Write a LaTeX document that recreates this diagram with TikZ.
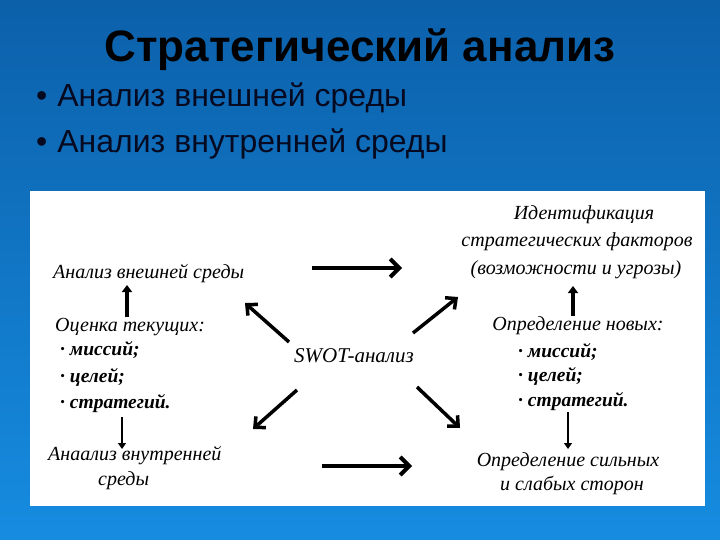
\documentclass[tikz,border=0pt]{standalone}
\usepackage{fontspec}
\setmainfont{Liberation Serif}
\newfontfamily\hdfont{Liberation Sans}
\usetikzlibrary{arrows.meta}
\definecolor{bgtop}{RGB}{12,96,170}
\definecolor{bgbot}{RGB}{22,140,224}
\definecolor{bullink}{RGB}{6,10,32}
\tikzset{
  lbl/.style={font=\fontsize{20}{24}\selectfont\itshape, inner sep=0pt, anchor=base west},
  lblc/.style={font=\fontsize{20}{24}\selectfont\itshape, inner sep=0pt, anchor=base},
  itm/.style={font=\fontsize{19.5}{24}\selectfont\itshape\bfseries, inner sep=0pt, anchor=base west},
  bigarr/.style={line width=4pt, -{Straight Barb[length=9pt,width=18pt]}},
  diagarr/.style={line width=3.5pt, -{Straight Barb[length=8pt,width=15pt]}},
  uparr/.style={line width=3.5pt, -{Triangle[length=7pt,width=10pt]}},
  dnarr/.style={line width=1.3pt, -{Triangle[length=6pt,width=8pt]}},
}
\begin{document}
\begin{tikzpicture}[x=1pt,y=-1pt]
\useasboundingbox (0,0) rectangle (720,540);
\shade[top color=bgtop, bottom color=bgbot] (0,0) rectangle (720,540);
% title and bullets
\node[font=\hdfont\bfseries\fontsize{44}{50}\selectfont, anchor=base, inner sep=0pt] (title) at (360,62) {Стратегический анализ};
\node[font=\hdfont\fontsize{32}{38}\selectfont, text=bullink, anchor=base west, inner sep=0pt] (b1) at (36,107) {•\hspace{10pt}Анализ внешней среды};
\node[font=\hdfont\fontsize{32}{38}\selectfont, text=bullink, anchor=base west, inner sep=0pt] (b2) at (36,153) {•\hspace{10pt}Анализ внутренней среды};
% panel
\fill[white] (30,191) rectangle (705,506);
% left column
\node[lbl] (ext) at (53,278) {Анализ внешней среды};
\node[lbl] (cur) at (55,331) {Оценка текущих:};
\node[itm] (l1) at (60,355) {· миссий;};
\node[itm] (l2) at (60,382) {· целей;};
\node[itm] (l3) at (60,408) {· стратегий.};
\node[lbl] (int1) at (48,460) {Анаализ внутренней};
\node[lbl] (int2) at (98,485) {среды};
% centre
\node[lblc, font=\fontsize{21}{24}\selectfont\itshape] (swot) at (354,362) {SWOT-анализ};
% right column
\node[lblc] (id1) at (584,219) {Идентификация};
\node[lblc] (id2) at (577,246) {стратегических факторов};
\node[lblc] (id3) at (576,274) {(возможности и угрозы)};
\node[lblc] (new) at (578,330) {Определение новых:};
\node[itm] (r1) at (518,357) {· миссий;};
\node[itm] (r2) at (518,381) {· целей;};
\node[itm] (r3) at (518,406) {· стратегий.};
\node[lblc] (sw1) at (568,466) {Определение сильных};
\node[lblc] (sw2) at (572,490) {и слабых сторон};
% arrow end points
\coordinate (hta) at (312,268); \coordinate (htb) at (402,268);
\coordinate (hba) at (322,466); \coordinate (hbb) at (412,466);
\coordinate (ula) at (289,342); \coordinate (ulb) at (245,303);
\coordinate (ura) at (413,333); \coordinate (urb) at (458,297);
\coordinate (dla) at (297,390); \coordinate (dlb) at (253,429);
\coordinate (dra) at (417,387); \coordinate (drb) at (460,428);
\coordinate (v1a) at (127,317); \coordinate (v1b) at (127,285);
\coordinate (v2a) at (122,417); \coordinate (v2b) at (122,449);
\coordinate (v3a) at (573,316); \coordinate (v3b) at (573,286);
\coordinate (v4a) at (568,412); \coordinate (v4b) at (568,449);
\draw[bigarr] (hta) -- (htb);
\draw[bigarr] (hba) -- (hbb);
\draw[diagarr] (ula) -- (ulb);
\draw[diagarr] (ura) -- (urb);
\draw[diagarr] (dla) -- (dlb);
\draw[diagarr] (dra) -- (drb);
\draw[uparr] (v1a) -- (v1b);
\draw[uparr] (v3a) -- (v3b);
\draw[dnarr] (v2a) -- (v2b);
\draw[dnarr] (v4a) -- (v4b);
\end{tikzpicture}
\end{document}
